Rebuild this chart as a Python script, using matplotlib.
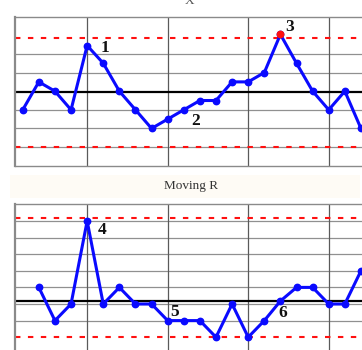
import matplotlib
matplotlib.use("Agg")
import matplotlib.pyplot as plt
from matplotlib.patches import Rectangle

# ---- data ----
x_index = list(range(1, 23))
x_values = [3, 4.5, 4, 3, 6.45, 5.5, 4, 3, 2, 2.5, 3, 3.5, 3.5, 4.5, 4.5, 5,
            7.05, 5.5, 4, 3, 4, 2]
x_center, x_ucl, x_lcl = 3.96, 6.87, 1.02
x_grid = [1, 2, 3, 5, 6]
x_out_idx = [17]

mr_index = list(range(2, 23))
mr_values = [1.5, 0.5, 1, 3.5, 1, 1.5, 1, 1, 0.5, 0.5, 0.5, 0, 1, 0, 0.5, 1.09,
             1.5, 1.5, 1, 1, 2]
mr_center, mr_ucl, mr_lcl = 1.09, 3.58, 0.0
mr_grid = [0.5, 1.0, 1.5, 2.0, 2.5, 3.0, 3.5]

v_grid = [5, 10, 15, 20]

x_labels = [("1", 6.11, 6.34), ("2", 11.76, 2.42), ("3", 17.56, 7.47)]
mr_labels = [("4", 5.91, 3.23), ("5", 10.40, 0.75), ("6", 17.12, 0.72)]

W, H = 362, 350
fig = plt.figure(figsize=(W / 100, H / 100), dpi=100)
fig.patch.set_facecolor("white")

# faint band behind subtitle
fig.patches.append(Rectangle((10 / W, 1 - 198 / H), 350 / W, 23 / H,
                             transform=fig.transFigure, facecolor="#fefbf5",
                             edgecolor="none", zorder=0))

left = 15 / W
width = (369 - 15) / W
ax1 = fig.add_axes([left, 1 - 165.7 / H, width, 149 / H])
ax2 = fig.add_axes([left, 1 - 353.8 / H, width, 149.4 / H])

blue = "#0a0aff"


def style(ax, xlim, ylim, hgrid, center, ucl, lcl):
    ax.set_xlim(*xlim)
    ax.set_ylim(*ylim)
    ax.set_xticks([])
    ax.set_yticks([])
    for s in ax.spines.values():
        s.set_color("#8a8a8a")
        s.set_linewidth(1.0)
    ax.spines["left"].set_linewidth(1.6)
    for g in hgrid:
        ax.axhline(g, color="#909090", lw=0.9, zorder=1)
    for g in v_grid:
        ax.axvline(g, color="#5a5a5a", lw=0.9, zorder=1)
    ax.axhline(center, color="black", lw=1.6, zorder=2)
    for v in (ucl, lcl):
        ax.axhline(v, color="#ff1010", lw=1.5, ls=(0, (2.6, 3.6)), zorder=2)


style(ax1, (0.52, 22.5), (0, 8), x_grid, x_center, x_ucl, x_lcl)
style(ax2, (0.52, 22.5), (-0.5, 4.0), mr_grid, mr_center, mr_ucl, mr_lcl)

ax1.plot(x_index, x_values, color=blue, lw=2.2, marker="o", ms=4.6,
         zorder=4, clip_on=False)
out_x = [x_index[x_index.index(i)] for i in x_out_idx]
out_y = [x_values[x_index.index(i)] for i in x_out_idx]
ax1.plot(out_x, out_y, ls="none", marker="o", ms=4.6, color="#ff1010",
         zorder=5)
ax2.plot(mr_index, mr_values, color=blue, lw=2.2, marker="o", ms=4.6,
         zorder=4, clip_on=False)

for ax, labs in ((ax1, x_labels), (ax2, mr_labels)):
    for t, x, y in labs:
        ax.text(x, y, t, ha="center", va="center", fontsize=12.5,
                fontweight="bold", family="Liberation Serif", color="#111111",
                zorder=6)

fig.text(191.5 / W, 1 - 186.5 / H, "Moving R", ha="center", va="center",
         fontsize=9.5, family="Liberation Serif", color="#333333")
fig.text(190 / W, 1 - 3.5 / H, "X", ha="center", va="baseline",
         fontsize=9.5, family="Liberation Serif", color="#555555")

fig.savefig("out.png", dpi=100)
